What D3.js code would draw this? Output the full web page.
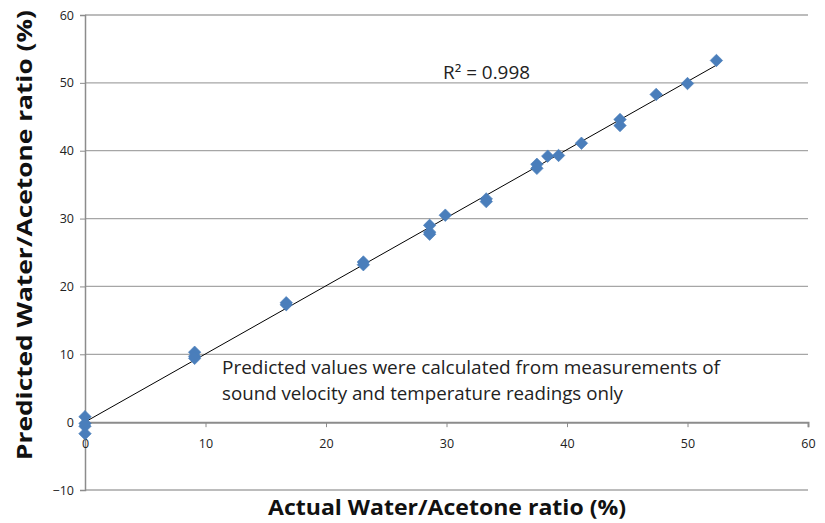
<!DOCTYPE html>
<html><head><meta charset="utf-8">
<script src="https://cdn.jsdelivr.net/npm/d3@7"></script>
<style>body{margin:0;background:#fff}</style>
</head><body>
<svg id="c" width="825" height="523"></svg>
<script>
const actual    = [0, 0, 0, 0, 9.1, 9.1, 9.1, 16.7, 16.7, 23.1, 23.1, 28.6, 28.6, 28.6, 29.9, 33.3, 33.3, 37.5, 37.5, 38.4, 39.3, 41.2, 44.4, 44.4, 47.4, 50.0, 52.4];
const predicted = [0.8, -0.2, -0.6, -1.7, 10.3, 9.7, 9.4, 17.6, 17.3, 23.6, 23.2, 29.0, 28.0, 27.7, 30.5, 32.9, 32.5, 38.0, 37.4, 39.2, 39.3, 41.1, 44.6, 43.7, 48.3, 49.9, 53.3];
const xTicks = [0, 10, 20, 30, 40, 50, 60];
const yTicks = [-10, 0, 10, 20, 30, 40, 50, 60];
const r2Label = "R² = 0.998";
const note = ["Predicted values  were calculated from measurements of", "sound velocity and temperature readings only"];
const xTitle = "Actual Water/Acetone ratio (%)";
const yTitle = "Predicted Water/Acetone ratio (%)";

const svg = d3.select("#c");
const x = d3.scaleLinear().domain([0, 60]).range([85, 808]);
const y = d3.scaleLinear().domain([-10, 60]).range([490, 15]);
const font = "'Open Sans', 'Liberation Sans', sans-serif";

// gridlines
svg.append("g").selectAll("line").data(yTicks.filter(d => d !== 0)).join("line")
  .attr("x1", x(0)).attr("x2", x(60)).attr("y1", d => y(d)).attr("y2", d => y(d))
  .attr("stroke", "#a6a6a6").attr("stroke-width", 1.3);

// y axis
const yAxis = svg.append("g").attr("transform", `translate(${x(0)},0)`)
  .call(d3.axisLeft(y).tickValues(yTicks).tickSize(5).tickPadding(6));
yAxis.select(".domain").attr("stroke", "#8c8c8c").attr("stroke-width", 1.5);
yAxis.selectAll(".tick line").attr("stroke", "#8c8c8c");
yAxis.selectAll("text").attr("font-family", font).attr("font-size", 12.5).attr("fill", "#222");

// x axis at y=0
const xAxis = svg.append("g").attr("transform", `translate(0,${y(0)})`)
  .call(d3.axisBottom(x).tickValues(xTicks).tickSize(5).tickPadding(12));
xAxis.select(".domain").attr("stroke", "#8c8c8c").attr("stroke-width", 2);
xAxis.selectAll(".tick line").attr("stroke", "#8c8c8c");
xAxis.selectAll("text").attr("font-family", font).attr("font-size", 12.5).attr("fill", "#222");

// trendline (least squares)
const n = actual.length;
const mx = d3.mean(actual), my = d3.mean(predicted);
let sxy = 0, sxx = 0;
for (let i = 0; i < n; i++) { sxy += (actual[i]-mx)*(predicted[i]-my); sxx += (actual[i]-mx)**2; }
const slope = sxy / sxx, icpt = my - slope * mx;
const xmin = d3.min(actual), xmax = d3.max(actual);
svg.append("line")
  .attr("x1", x(xmin)).attr("y1", y(icpt + slope*xmin))
  .attr("x2", x(xmax)).attr("y2", y(icpt + slope*xmax))
  .attr("stroke", "#000").attr("stroke-width", 1);

// points
const sym = d3.symbol().type(d3.symbolSquare).size(78);
svg.append("g").selectAll("path").data(actual.map((a, i) => [a, predicted[i]])).join("path")
  .attr("d", sym)
  .attr("transform", d => `translate(${x(d[0])},${y(d[1])}) rotate(45)`)
  .attr("fill", "#4a7ebb").attr("stroke", "#4a7ebb").attr("stroke-width", 0.6);

// annotations
svg.append("text").attr("x", 443).attr("y", 79).attr("font-family", font).attr("font-size", 17.5)
  .attr("textLength", 87).attr("lengthAdjust", "spacingAndGlyphs").attr("fill", "#222").text(r2Label);
svg.append("g").selectAll("text").data(note).join("text")
  .attr("x", 222).attr("y", (d, i) => 374 + i * 26)
  .attr("font-family", font).attr("font-size", 17.5).attr("fill", "#222")
  .attr("textLength", (d, i) => i === 0 ? 498 : 401).attr("lengthAdjust", "spacingAndGlyphs")
  .text(d => d);

// titles
svg.append("text").attr("x", 447).attr("y", 515).attr("text-anchor", "middle")
  .attr("font-family", font).attr("font-size", 20.5).attr("font-weight", "bold").attr("fill", "#111")
  .attr("textLength", 358).attr("lengthAdjust", "spacingAndGlyphs").text(xTitle);
svg.append("text").attr("transform", "translate(32,235) rotate(-90)").attr("text-anchor", "middle")
  .attr("font-family", font).attr("font-size", 21.5).attr("font-weight", "bold").attr("fill", "#111")
  .attr("textLength", 450).attr("lengthAdjust", "spacingAndGlyphs").text(yTitle);
</script>
</body></html>
